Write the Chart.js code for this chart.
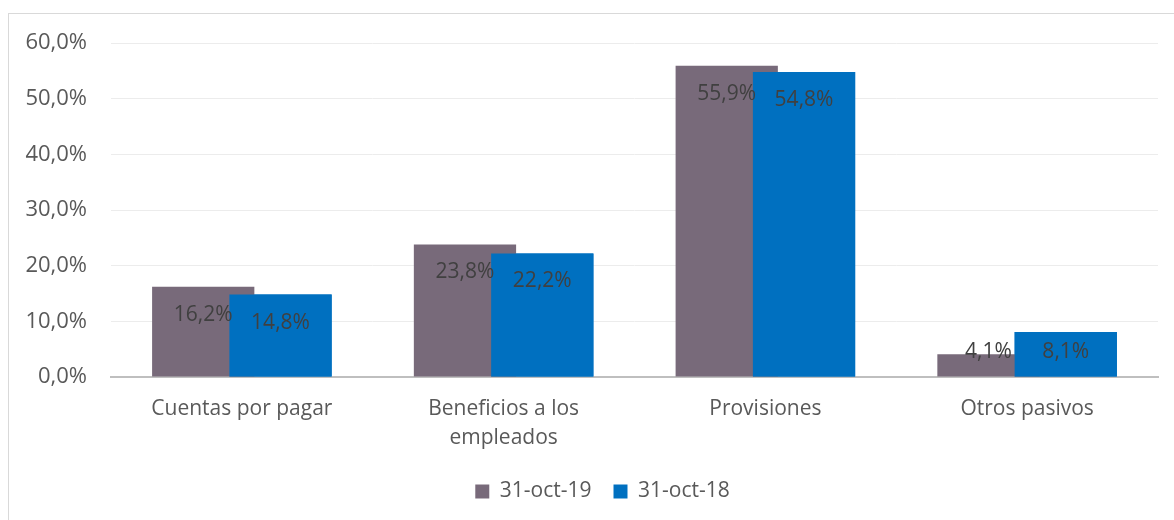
<!DOCTYPE html>
<html>
<head>
<meta charset="utf-8">
<script src="https://cdn.jsdelivr.net/npm/chart.js@4.4.1/dist/chart.umd.min.js"></script>
<style>
  html, body { margin: 0; padding: 0; background: #ffffff; overflow: hidden; width: 1174px; height: 520px; }
  #frame { position: absolute; left: 8px; top: 13px; width: 1189px; height: 520px; border: 1px solid #d9d9d9; box-sizing: border-box; background: #fff; }
  #wrap { position: absolute; left: 0; top: 0; width: 1188px; height: 506px; }
</style>
</head>
<body>
<div id="frame"><div id="wrap"><canvas id="c"></canvas></div></div>
<script>
const categories = [["Cuentas por pagar"], ["Beneficios a los", "empleados"], ["Provisiones"], ["Otros pasivos"]];
const seriesNames = ["31-oct-19", "31-oct-18"];
const values2019 = [16.2, 23.8, 55.9, 4.1];
const values2018 = [14.8, 22.2, 54.8, 8.1];
const yTickLabels = ["0,0%", "10,0%", "20,0%", "30,0%", "40,0%", "50,0%", "60,0%"];
const dataLabels2019 = ["16,2%", "23,8%", "55,9%", "4,1%"];
const dataLabels2018 = ["14,8%", "22,2%", "54,8%", "8,1%"];

const COLOR_2019 = '#786a7a';
const COLOR_2018 = '#0070c0';
const FONT = "'Open Sans', 'Noto Sans', sans-serif";

// Center the legend on the whole chart frame (as in the original), not only the padded area.
const legendShift = {
  id: 'legendShift',
  afterLayout(chart) {
    const lg = chart.legend;
    if (lg) { lg.left += 19; lg.right += 19; }
  }
};

// Blue series (right bar of each pair) sits on top of the purple one, then value labels.
const labelPlugin = {
  id: 'barLabels',
  afterDatasetsDraw(chart) {
    const ctx = chart.ctx;
    const area = chart.chartArea;
    ctx.save();
    ctx.beginPath();
    ctx.rect(area.left, area.top, area.right - area.left, area.bottom - area.top);
    ctx.clip();
    chart.getDatasetMeta(1).data.forEach(el => el.draw(ctx, area));
    ctx.restore();

    ctx.save();
    ctx.font = '21px ' + FONT;
    ctx.fillStyle = '#404040';
    ctx.textAlign = 'center';
    ctx.textBaseline = 'middle';
    chart.data.datasets.forEach((ds, di) => {
      if (!ds.valueLabels) return;
      const meta = chart.getDatasetMeta(di);
      meta.data.forEach((el, i) => {
        const cy = Math.min(el.y + 28, el.base - 24);
        ctx.fillText(ds.valueLabels[i], el.x, cy);
      });
    });
    ctx.restore();
  }
};

const barOpts = { categoryPercentage: 0.5906, barPercentage: 1.323, borderWidth: 0 };

new Chart(document.getElementById('c'), {
  type: 'bar',
  data: {
    labels: categories,
    datasets: [
      Object.assign({ label: seriesNames[0], data: values2019, backgroundColor: COLOR_2019, valueLabels: dataLabels2019 }, barOpts),
      Object.assign({ label: seriesNames[1], data: values2018, backgroundColor: COLOR_2018, valueLabels: dataLabels2018 }, barOpts)
    ]
  },
  options: {
    responsive: true,
    maintainAspectRatio: false,
    animation: false,
    layout: { padding: { left: 0, right: 39, top: 29, bottom: 8 } },
    scales: {
      x: {
        type: 'category',
        offset: true,
        grid: { display: false, drawTicks: false },
        border: { display: true, color: '#bfbfbf', width: 2 },
        ticks: { color: '#595959', font: { family: FONT, size: 21, lineHeight: 1.381 }, padding: 18, maxRotation: 0, autoSkip: false },
        afterFit: (s) => { s.height = 82; }
      },
      y: {
        min: 0,
        max: 60,
        grid: { color: '#ececec', lineWidth: 1, drawTicks: false },
        border: { display: false },
        ticks: {
          stepSize: 10,
          padding: 24,
          color: '#595959',
          font: { family: FONT, size: 22 },
          callback: (v, i) => yTickLabels[i]
        },
        afterFit: (s) => { s.width = 102; s.paddingTop = 0; s.paddingBottom = 0; }
      }
    },
    plugins: {
      legend: {
        position: 'bottom',
        labels: {
          boxWidth: 14,
          boxHeight: 14,
          padding: 22,
          color: '#595959',
          font: { family: FONT, size: 21 }
        }
      },
      tooltip: { enabled: false }
    }
  },
  plugins: [legendShift, labelPlugin]
});
</script>
</body>
</html>
